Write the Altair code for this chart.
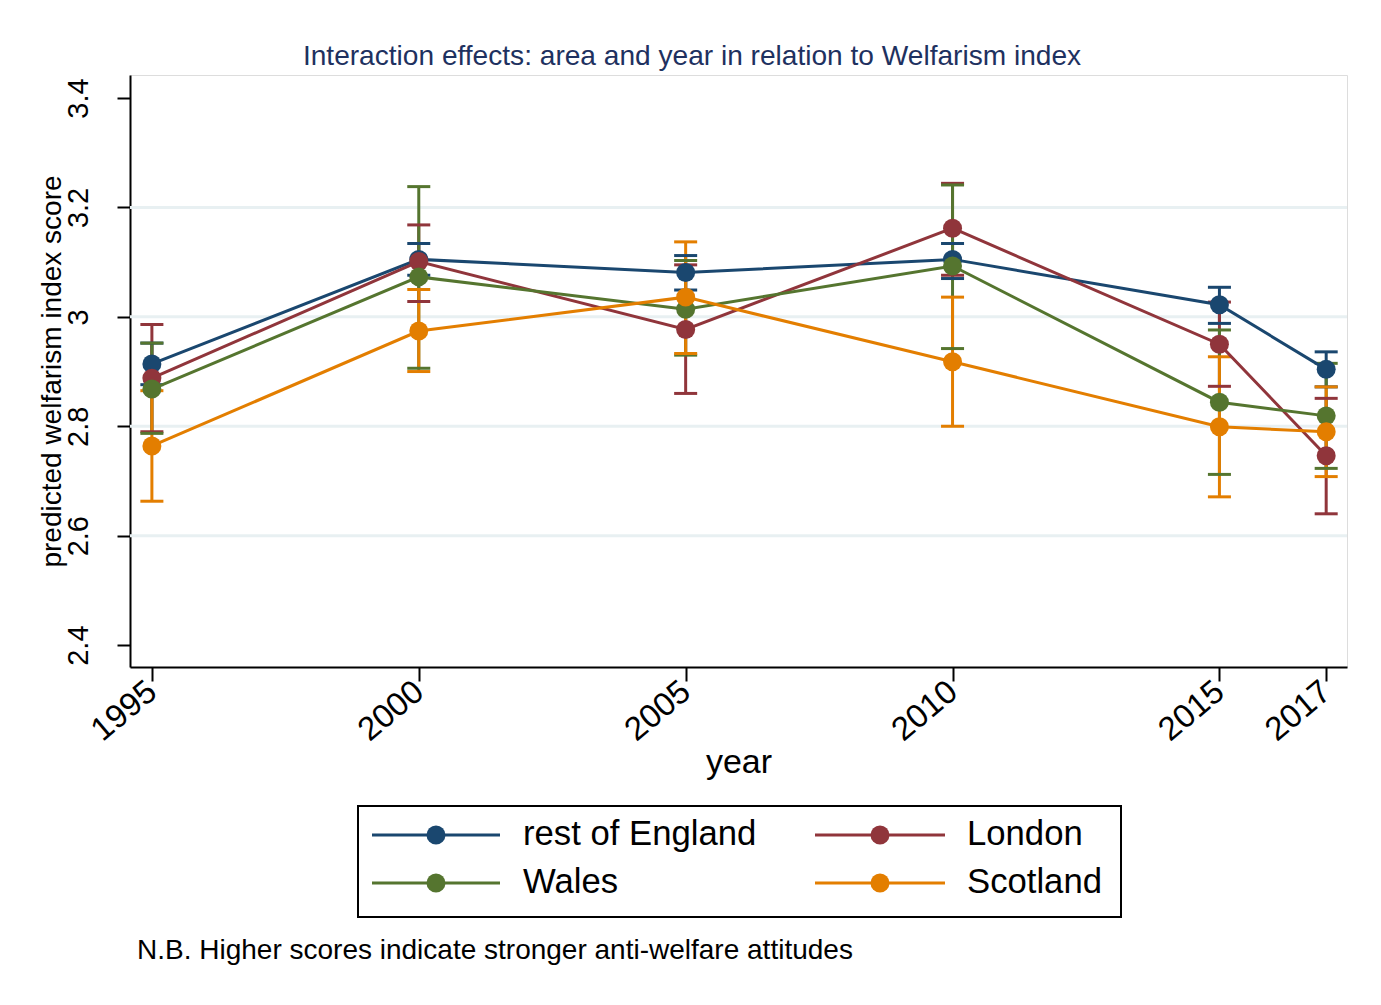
import altair as alt
import pandas as pd

YEARS = [1995, 2000, 2005, 2010, 2015, 2017]
AREAS = ["rest of England", "London", "Wales", "Scotland"]
COLORS = ["#1a476f", "#90353b", "#55752f", "#e37e00"]

EST_REST = [2.914, 3.105, 3.081, 3.105, 3.022, 2.904]
LO_REST = [2.876, 3.076, 3.049, 3.070, 2.988, 2.872]
HI_REST = [2.952, 3.134, 3.112, 3.134, 3.054, 2.936]

EST_LON = [2.888, 3.101, 2.977, 3.162, 2.950, 2.746]
LO_LON = [2.790, 3.028, 2.860, 3.076, 2.873, 2.640]
HI_LON = [2.986, 3.168, 3.095, 3.244, 3.027, 2.851]

EST_WAL = [2.868, 3.073, 3.014, 3.093, 2.844, 2.819]
LO_WAL = [2.787, 2.906, 2.930, 2.942, 2.712, 2.723]
HI_WAL = [2.952, 3.238, 3.103, 3.241, 2.976, 2.915]

EST_SCO = [2.764, 2.974, 3.036, 2.918, 2.799, 2.790]
LO_SCO = [2.663, 2.900, 2.933, 2.800, 2.671, 2.708]
HI_SCO = [2.865, 3.050, 3.137, 3.036, 2.927, 2.872]

Y_TICKS = [2.4, 2.6, 2.8, 3.0, 3.2, 3.4]
GRID_VALUES = [2.6, 2.8, 3.0, 3.2]

TITLE = "Interaction effects: area and year in relation to Welfarism index"
NOTE = "N.B. Higher scores indicate stronger anti-welfare attitudes"

series = [
    (AREAS[0], EST_REST, LO_REST, HI_REST),
    (AREAS[1], EST_LON, LO_LON, HI_LON),
    (AREAS[2], EST_WAL, LO_WAL, HI_WAL),
    (AREAS[3], EST_SCO, LO_SCO, HI_SCO),
]
rows = []
for order, (name, est, lo, hi) in enumerate(series):
    for y, e, l, h in zip(YEARS, est, lo, hi):
        rows.append({"area": name, "order": order, "year": y, "est": e, "lo": l, "hi": h})
df = pd.DataFrame(rows)

W, H = 1217, 592
FONT = "Liberation Sans"
LW = 3
MS = 360

xscale = alt.Scale(domain=[1994.59, 2017.39], nice=False, zero=False)
yscale = alt.Scale(domain=[2.36, 3.442], nice=False, zero=False)
cscale = alt.Scale(domain=AREAS, range=COLORS)

xaxis = alt.Axis(
    values=YEARS, format="d", labelAngle=320, labelAlign="right", labelBaseline="middle",
    labelFontSize=33, labelPadding=6, labelFlush=False, labelOverlap=False, labelBound=False,
    tickSize=14, tickWidth=2, tickColor="black", domainColor="black", domainWidth=2,
    grid=False, title="year", titleFontSize=34, titleFontWeight="normal",
    titleY=105, titleBaseline="alphabetic", labelColor="black", titleColor="black",
)
yaxis = alt.Axis(
    values=Y_TICKS, format="~g", labelAngle=270, labelAlign="center", labelBaseline="alphabetic",
    labelFontSize=29, labelPadding=30, labelFlush=False, labelOverlap=False, labelBound=False,
    tickSize=13, tickWidth=2, tickColor="black", domainColor="black", domainWidth=2,
    grid=False, title="predicted welfarism index score", titleFontSize=28,
    titleFontWeight="normal", titleAngle=270, titleX=-70, titleY=296,
    titleBaseline="alphabetic", titleAlign="center", labelColor="black", titleColor="black",
)

base = alt.Chart(df)

grid = alt.Chart(pd.DataFrame({"g": GRID_VALUES})).mark_rule(
    color="#e8f0f2", strokeWidth=3
).encode(y=alt.Y("g:Q", scale=yscale, axis=yaxis))

bars = base.mark_rule(strokeWidth=LW).encode(
    x=alt.X("year:Q", scale=xscale, axis=xaxis),
    y=alt.Y("lo:Q", scale=yscale),
    y2="hi:Q",
    color=alt.Color("area:N", scale=cscale, legend=None),
    order="order:Q",
)
caps_lo = base.mark_point(shape="stroke", size=530, strokeWidth=LW, opacity=1).encode(
    x=alt.X("year:Q", scale=xscale),
    y=alt.Y("lo:Q", scale=yscale),
    color=alt.Color("area:N", scale=cscale, legend=None),
    order="order:Q",
)
caps_hi = caps_lo.encode(y=alt.Y("hi:Q", scale=yscale))

layers = [grid, bars, caps_lo, caps_hi]
for name, est, lo, hi in series:
    sub = df[df["area"] == name]
    c = alt.Chart(sub)
    layers.append(c.mark_line(strokeWidth=LW).encode(
        x=alt.X("year:Q", scale=xscale),
        y=alt.Y("est:Q", scale=yscale),
        color=alt.Color("area:N", scale=cscale, legend=None),
    ))
    layers.append(c.mark_circle(size=MS, opacity=1).encode(
        x=alt.X("year:Q", scale=xscale),
        y=alt.Y("est:Q", scale=yscale),
        color=alt.Color("area:N", scale=cscale, legend=None),
    ))

one = pd.DataFrame({"k": [0]})
# legend box
layers.append(alt.Chart(one).mark_rect(fill="white", stroke="black", strokeWidth=2).encode(
    x=alt.value(228), x2=alt.value(991), y=alt.value(731), y2=alt.value(842)))
legend_cols = [(242, 370, 306, 393), (685, 815, 750, 837)]
legend_rows = [760, 808]
for i, (name, col) in enumerate(zip(AREAS, COLORS)):
    x1, x2, xc, xt = legend_cols[i % 2]
    yy = legend_rows[i // 2]
    lab = pd.DataFrame({"label": [name]})
    layers.append(alt.Chart(lab).mark_rule(strokeWidth=LW, color=col).encode(
        x=alt.value(x1), x2=alt.value(x2), y=alt.value(yy)))
    layers.append(alt.Chart(lab).mark_circle(size=MS, opacity=1, color=col).encode(
        x=alt.value(xc), y=alt.value(yy)))
    layers.append(alt.Chart(lab).mark_text(align="left", baseline="middle", fontSize=34.7,
                                           font=FONT, color="black").encode(
        x=alt.value(xt), y=alt.value(yy), text="label:N"))

# title and note
layers.append(alt.Chart(pd.DataFrame({"t": [TITLE]})).mark_text(
    align="center", baseline="alphabetic", fontSize=28.1, font=FONT, color="#1e3160").encode(
    x=alt.value(562), y=alt.value(-10), text="t:N"))
layers.append(alt.Chart(pd.DataFrame({"t": [NOTE]})).mark_text(
    align="left", baseline="alphabetic", fontSize=28, font=FONT, color="black").encode(
    x=alt.value(7), y=alt.value(884), text="t:N"))

chart = alt.layer(*layers).properties(
    width=W, height=H,
    autosize=alt.AutoSizeParams(type="none"),
    padding={"left": 122, "top": 67, "right": 26, "bottom": 325},
    background="white",
).configure_view(stroke=None).configure(font=FONT).configure_axis(
    labelFont=FONT, titleFont=FONT
)

chart.save("out.html", embed_options={"renderer": "svg", "actions": False})
